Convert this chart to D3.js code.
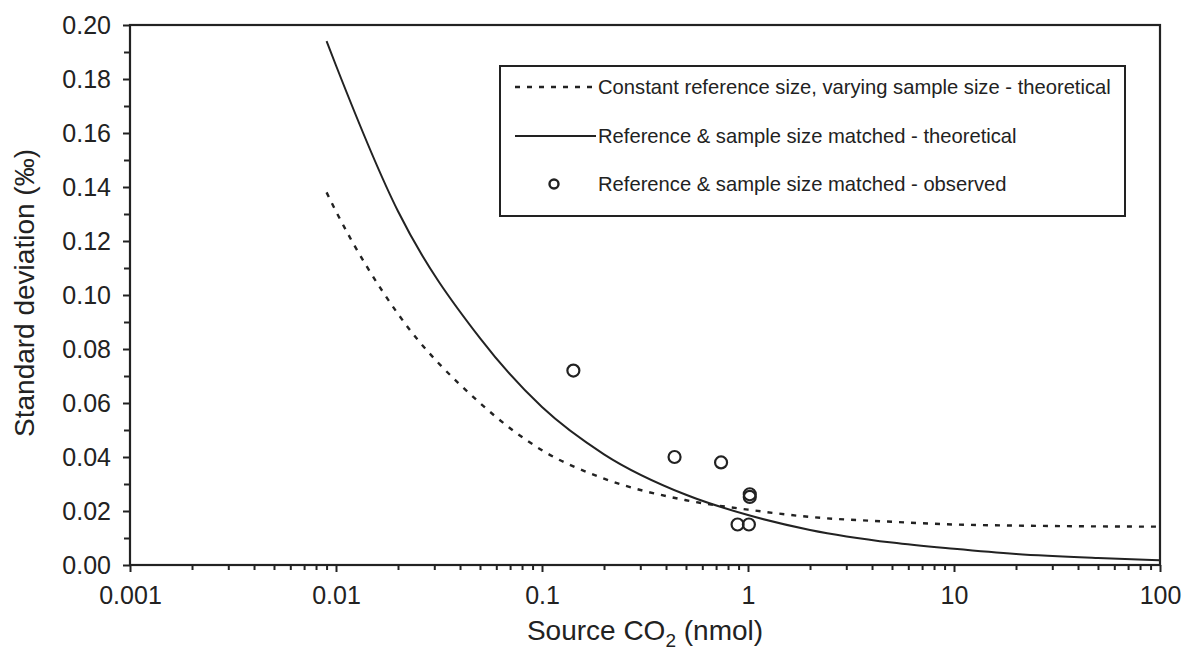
<!DOCTYPE html>
<html><head><meta charset="utf-8">
<script src="https://cdn.jsdelivr.net/npm/d3@7"></script>
<style>body{margin:0;background:#fff}svg{display:block}text{font-family:"Liberation Sans",Arial,sans-serif;fill:#222}</style>
</head><body><svg id="c" width="1185" height="652"></svg>
<script>
const xTickVals = [0.001, 0.01, 0.1, 1, 10, 100];
const xTickLabels = ["0.001", "0.01", "0.1", "1", "10", "100"];
const yTickVals = [0, 0.02, 0.04, 0.06, 0.08, 0.10, 0.12, 0.14, 0.16, 0.18, 0.20];
const yTickLabels = ["0.00","0.02","0.04","0.06","0.08","0.10","0.12","0.14","0.16","0.18","0.20"];

const solidX = [0.009, 0.01, 0.02, 0.05, 0.1, 0.2, 0.5, 1, 2, 5, 10, 20, 50, 100];
const solidY = [0.194, 0.185, 0.131, 0.084, 0.0585, 0.041, 0.026, 0.0185, 0.013, 0.0083, 0.0060, 0.0041, 0.0026, 0.0018];
const dashX = [0.009, 0.01, 0.02, 0.05, 0.1, 0.2, 0.5, 1, 2, 5, 10, 20, 50, 100];
const dashY = [0.138, 0.131, 0.093, 0.060, 0.0425, 0.032, 0.024, 0.0205, 0.0178, 0.0160, 0.0150, 0.0146, 0.0143, 0.0142];
const obsX = [0.142, 0.44, 0.74, 1.02, 1.02, 0.89, 1.01];
const obsY = [0.072, 0.040, 0.038, 0.0262, 0.0252, 0.015, 0.015];
const legendLabels = ["Constant reference size, varying sample size - theoretical",
  "Reference & sample size matched - theoretical",
  "Reference & sample size matched - observed"];

const svg = d3.select("#c");
const L = 130, R = 1160, T = 25, B = 565;
const x = d3.scaleLog().domain([0.001, 100]).range([L, R]);
const y = d3.scaleLinear().domain([0, 0.20]).range([B, T]);
const ink = "#222";
const FF = '"Liberation Sans",Arial,sans-serif';

// minor x ticks
const minorX = [];
for (let e = -3; e < 2; e++) for (let k = 2; k <= 9; k++) minorX.push(k * Math.pow(10, e));
svg.append("g").attr("transform", `translate(0,${B})`)
  .call(d3.axisBottom(x).tickValues(minorX).tickSize(5).tickFormat(""))
  .call(g => { g.select(".domain").remove(); g.selectAll("line").attr("stroke", ink).attr("stroke-width", 2); });
svg.append("g").attr("transform", `translate(0,${B})`)
  .call(d3.axisBottom(x).tickValues(xTickVals).tickSize(7).tickPadding(14).tickFormat((d,i) => xTickLabels[i]))
  .call(g => { g.select(".domain").remove(); g.selectAll("line").attr("stroke", ink).attr("stroke-width", 2);
    g.attr("font-size", 25).attr("font-family", FF);
    g.selectAll("text").attr("fill", ink); });

// y ticks
const minorY = d3.range(0.01, 0.20, 0.02);
svg.append("g").attr("transform", `translate(${L},0)`)
  .call(d3.axisLeft(y).tickValues(minorY).tickSize(6).tickFormat(""))
  .call(g => { g.select(".domain").remove(); g.selectAll("line").attr("stroke", ink).attr("stroke-width", 2); });
svg.append("g").attr("transform", `translate(${L},0)`)
  .call(d3.axisLeft(y).tickValues(yTickVals).tickSize(7).tickPadding(12).tickFormat((d,i) => yTickLabels[i]))
  .call(g => { g.select(".domain").remove(); g.selectAll("line").attr("stroke", ink).attr("stroke-width", 2);
    g.attr("font-size", 25).attr("font-family", FF);
    g.selectAll("text").attr("fill", ink); });

// frame
svg.append("rect").attr("x", L).attr("y", T).attr("width", R - L).attr("height", B - T)
  .attr("fill", "none").attr("stroke", ink).attr("stroke-width", 2.2);

// curves
const line = d3.line().x(d => x(d[0])).y(d => y(d[1])).curve(d3.curveMonotoneX);
svg.append("path").datum(solidX.map((v,i) => [v, solidY[i]])).attr("d", line)
  .attr("fill", "none").attr("stroke", ink).attr("stroke-width", 2);
svg.append("path").datum(dashX.map((v,i) => [v, dashY[i]])).attr("d", line)
  .attr("fill", "none").attr("stroke", ink).attr("stroke-width", 2.4).attr("stroke-dasharray", "5,7");

// observed
svg.append("g").selectAll("circle").data(obsX.map((v,i) => [v, obsY[i]])).join("circle")
  .attr("cx", d => x(d[0])).attr("cy", d => y(d[1])).attr("r", 6)
  .attr("fill", "none").attr("stroke", ink).attr("stroke-width", 2.2);

// legend
svg.append("rect").attr("x", 500).attr("y", 66).attr("width", 625).attr("height", 150)
  .attr("fill", "#fff").attr("stroke", ink).attr("stroke-width", 2);
const ly = [87, 136, 184];
svg.append("line").attr("x1", 515).attr("x2", 596).attr("y1", ly[0]).attr("y2", ly[0])
  .attr("stroke", ink).attr("stroke-width", 2.4).attr("stroke-dasharray", "5,7");
svg.append("line").attr("x1", 515).attr("x2", 596).attr("y1", ly[1]).attr("y2", ly[1])
  .attr("stroke", ink).attr("stroke-width", 2);
svg.append("circle").attr("cx", 554).attr("cy", ly[2]).attr("r", 4.5)
  .attr("fill", "none").attr("stroke", ink).attr("stroke-width", 2.4);
legendLabels.forEach((t, i) => {
  svg.append("text").attr("x", 598).attr("y", ly[i]).attr("dy", "0.35em")
    .attr("font-size", 20.2).text(t);
});

// axis titles
const xt = svg.append("text").attr("x", 645).attr("y", 640).attr("text-anchor", "middle").attr("font-size", 28);
xt.append("tspan").text("Source CO");
xt.append("tspan").text("2").attr("font-size", 19).attr("dy", 7);
xt.append("tspan").text(" (nmol)").attr("dy", -7);
svg.append("text").attr("transform", "translate(34,293) rotate(-90)").attr("text-anchor", "middle")
  .attr("font-size", 28).text("Standard deviation (‰)");
</script></body></html>
